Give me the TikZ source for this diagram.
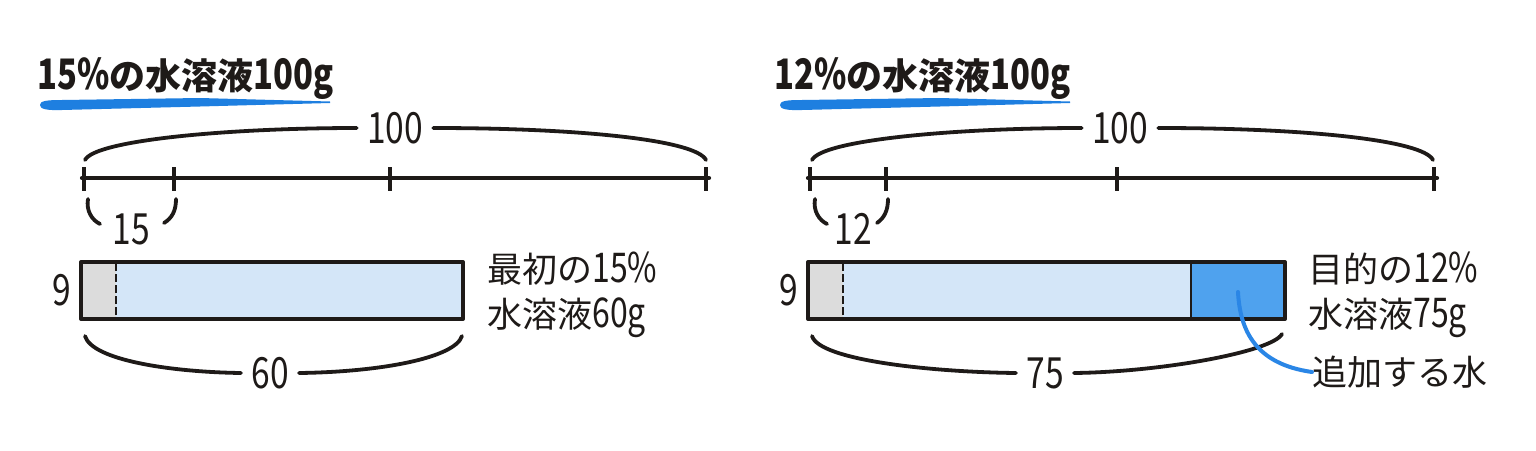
\documentclass[tikz,border=0pt]{standalone}
\usepackage{fontspec}
\setmainfont{Noto Sans CJK JP}
\newfontfamily\numfont[FakeStretch=0.78]{Noto Sans CJK JP}
\definecolor{ink}{HTML}{1E1A18}
\definecolor{ulblue}{HTML}{1E7FE0}
\definecolor{lightbar}{HTML}{D4E6F8}
\definecolor{darkbar}{HTML}{4FA2EE}
\definecolor{graybar}{HTML}{DCDCDC}
\definecolor{leadblue}{HTML}{2A86E6}
\newcommand{\dgl}[1]{{\numfont\fontsize{20.5}{22.5}\selectfont #1}}
\newcommand{\dgt}[1]{{\numfont\bfseries\fontsize{21}{22}\selectfont #1}}
\tikzset{
  inkline/.style={draw=ink, line width=2.1pt, line cap=round, line join=round},
  barline/.style={draw=ink, line width=2pt, line join=round},
  brace/.style={draw=ink, line width=1.9pt, line cap=round},
  tickmark/.style={draw=ink, line width=1.6pt},
  lbl/.style={font=\fontsize{17.5}{22.5}\selectfont, text=ink, inner sep=0pt, align=left},
  ttl/.style={font=\bfseries\fontsize{18}{22}\selectfont, text=ink, inner sep=0pt},
  num/.style={font=\numfont\fontsize{21.5}{24}\selectfont, text=ink, inner xsep=5pt, inner ysep=0pt},
  lead/.style={draw=leadblue, line width=2pt, line cap=round},
}
\begin{document}
\begin{tikzpicture}[x=0.5pt, y=-0.5pt]
\fill[white] (0,0) rectangle (1536,450);
\useasboundingbox (0,0) rectangle (1536,450);

% ---------------- left panel ----------------
\node[ttl, anchor=west] (t1) at (37,79) {\dgt{15\%}の水溶液\dgt{100g}};
\fill[ulblue] (40,105) .. controls (40,101) and (46,100) .. (62,100) -- (200,98) -- (330,101.5)
  -- (330,103) -- (200,106.5) -- (62,110) .. controls (46,110.5) and (40,109) .. (40,105) -- cycle;

\node[num] (h1) at (395,128) {100};
\coordinate (b1l) at (85,160);
\coordinate (b1r) at (706,160);
\draw[brace] (b1l) .. controls (95,140) and (230,128) .. (h1.west);
\draw[brace] (h1.east) .. controls (580,128) and (696,140) .. (b1r);

\coordinate (n1a) at (82,178);
\coordinate (n1b) at (709,178);
\draw[inkline] (n1a) -- (n1b);
\foreach \x in {84,174,390,706} \draw[tickmark] (\x,167) -- (\x,191);

\node[num] (s1) at (131,229) {15};
\draw[brace] (88,199) .. controls (86,211) and (92,220) .. (100,224);
\draw[brace] (176,199) .. controls (176,211) and (172,218) .. (164,223);

\fill[graybar] (81,262) rectangle (116,319);
\fill[lightbar] (116,262) rectangle (463,319);
\draw[ink, line width=1.1pt, dash pattern=on 4pt off 1.5pt] (116,263) -- (116,318);
\draw[barline] (81,262) rectangle (463,319);

\node[num, inner xsep=0pt] (nine1) at (62,290) {9};
\node[lbl, anchor=west] (d1) at (487,295) {最初の\dgl{15\%}\\水溶液\dgl{60g}};

\node[num] (w1) at (270,373) {60};
\draw[brace] (85,336) .. controls (92,360) and (170,372) .. (w1.west);
\draw[brace] (w1.east) .. controls (380,372) and (455,358) .. (462,336);

% ---------------- right panel ----------------
\node[ttl, anchor=west] (t2) at (774,79) {\dgt{12\%}の水溶液\dgt{100g}};
\fill[ulblue] (780,105) .. controls (780,101) and (786,100) .. (802,100) -- (940,98) -- (1070,101.5)
  -- (1070,103) -- (940,106.5) -- (802,110) .. controls (786,110.5) and (780,109) .. (780,105) -- cycle;

\node[num] (h2) at (1120,128) {100};
\coordinate (b2l) at (812,160);
\coordinate (b2r) at (1433,160);
\draw[brace] (b2l) .. controls (822,140) and (955,128) .. (h2.west);
\draw[brace] (h2.east) .. controls (1305,128) and (1423,140) .. (b2r);

\coordinate (n2a) at (808,178);
\coordinate (n2b) at (1437,178);
\draw[inkline] (n2a) -- (n2b);
\foreach \x in {810,886,1117,1434} \draw[tickmark] (\x,167) -- (\x,191);

\node[num] (s2) at (853,229) {12};
\draw[brace] (815,199) .. controls (813,211) and (819,220) .. (827,224);
\draw[brace] (888,199) .. controls (888,211) and (884,218) .. (877,223);

\fill[graybar] (808,262) rectangle (843,319);
\fill[lightbar] (843,262) rectangle (1191,319);
\fill[darkbar] (1191,262) rectangle (1285,319);
\draw[ink, line width=1.1pt, dash pattern=on 4pt off 1.5pt] (843,263) -- (843,318);
\draw[ink, line width=0.9pt] (1191,262) -- (1191,319);
\draw[barline] (808,262) rectangle (1285,319);

\node[num, inner xsep=0pt] (nine2) at (789,290) {9};
\node[lbl, anchor=west] (d2) at (1308,295) {目的の\dgl{12\%}\\水溶液\dgl{75g}};

\node[num] (w2) at (1045,373) {75};
\draw[brace] (812,336) .. controls (819,360) and (930,372) .. (w2.west);
\draw[brace] (w2.east) .. controls (1160,372) and (1272,352) .. (1282,334);

\node[lbl, anchor=west] (add) at (1312,372) {追加する水};
\coordinate (dp) at (1238,292);
\draw[lead] (dp) .. controls (1240,330) and (1255,364) .. (add.west);
\end{tikzpicture}
\end{document}
